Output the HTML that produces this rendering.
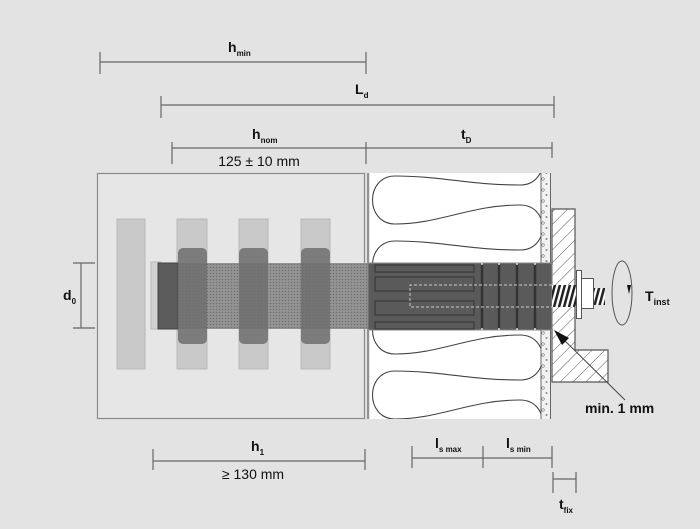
<!DOCTYPE html>
<html><head><meta charset="utf-8"><style>
html,body{margin:0;padding:0;background:#e3e3e3}
svg{display:block}
text{font-family:"Liberation Sans",sans-serif;fill:#111;font-weight:bold}
</style></head><body>
<svg width="700" height="529" viewBox="0 0 700 529" xmlns="http://www.w3.org/2000/svg">
<defs>
<pattern id="mesh" width="3" height="3" patternUnits="userSpaceOnUse"><rect width="3" height="3" fill="#8e8e8e"/><rect width="1" height="1" fill="#6e6e6e"/><rect x="1.5" y="1.5" width="1" height="1" fill="#a8a8a8"/></pattern>
<pattern id="hatch" width="9" height="9" patternUnits="userSpaceOnUse" patternTransform="rotate(45)"><rect width="9" height="9" fill="#fff"/><line x1="0" y1="0" x2="0" y2="9" stroke="#555" stroke-width="1"/></pattern>
<pattern id="speck" width="9" height="11" patternUnits="userSpaceOnUse"><rect width="9" height="11" fill="#f2f2f2"/><circle cx="3" cy="3" r="1.3" fill="none" stroke="#777" stroke-width="0.6"/><circle cx="6.5" cy="8" r="1" fill="#888"/></pattern>
<pattern id="thread" width="5" height="30" patternUnits="userSpaceOnUse" patternTransform="skewX(-15)"><rect width="5" height="30" fill="#fff"/><rect width="2.6" height="30" fill="#222"/></pattern>
<clipPath id="ins"><rect x="370" y="173" width="171" height="246"/></clipPath>
</defs>

<rect x="97.5" y="173.5" width="267" height="245" fill="#e6e6e6" stroke="#8a8a8a" stroke-width="1.2"/>
<line x1="368" y1="173" x2="368" y2="419" stroke="#777" stroke-width="1.5"/>
<rect x="117" y="219" width="28" height="150" fill="#c9c9c9" stroke="#b8b8b8"/>
<rect x="177" y="219" width="30" height="150" fill="#c9c9c9" stroke="#b8b8b8"/>
<rect x="239" y="219" width="29" height="150" fill="#c9c9c9" stroke="#b8b8b8"/>
<rect x="301" y="219" width="29" height="150" fill="#c9c9c9" stroke="#b8b8b8"/>
<rect x="151" y="262" width="10" height="67" fill="#d2d2d2" stroke="#b8b8b8"/>
<rect x="158" y="263" width="210" height="66" fill="url(#mesh)"/>
<rect x="158" y="263" width="20" height="66" fill="#5c5c5c" stroke="#444"/>
<rect x="178" y="248" width="29" height="96" rx="5" fill="#6e6e6e" opacity="0.85"/>
<rect x="239" y="248" width="29" height="96" rx="5" fill="#6e6e6e" opacity="0.85"/>
<rect x="301" y="248" width="29" height="96" rx="5" fill="#6e6e6e" opacity="0.85"/>

<rect x="370" y="173" width="171" height="246" fill="#fff"/>
<path clip-path="url(#ins)" fill="none" stroke="#444" stroke-width="1.1" d="M520,120 C470,120 440,111 395,111 C365,111 365,159 395,159 C440,159 470,140 520,140 C550,140 550,185 520,185 C470,185 440,176 395,176 C365,176 365,224 395,224 C440,224 470,205 520,205 C550,205 550,250 520,250 C470,250 440,241 395,241 C365,241 365,289 395,289 C440,289 470,270 520,270 C550,270 550,315 520,315 C470,315 440,306 395,306 C365,306 365,354 395,354 C440,354 470,335 520,335 C550,335 550,380 520,380 C470,380 440,371 395,371 C365,371 365,419 395,419 C440,419 470,400 520,400 C550,400 550,445 520,445"/>
<rect x="541" y="173" width="9" height="246" fill="url(#speck)"/>
<line x1="541" y1="173" x2="541" y2="419" stroke="#666"/>
<line x1="550.5" y1="173" x2="550.5" y2="419" stroke="#666"/>

<path d="M552,209 H575 V350 H608 V382 H552 Z" fill="url(#hatch)" stroke="#555" stroke-width="1.2"/>

<rect x="368" y="263" width="184" height="67" rx="2" fill="#5a5a5a" stroke="#888"/>
<g fill="none" stroke="#3a3a3a" stroke-width="1.2">
<rect x="375" y="265" width="99" height="7"/>
<rect x="375" y="277" width="99" height="14"/>
<rect x="375" y="301" width="99" height="14"/>
<rect x="375" y="322" width="99" height="7"/>
</g>
<g stroke="#333" stroke-width="2.5">
<line x1="482" y1="264" x2="482" y2="329"/><line x1="499" y1="264" x2="499" y2="329"/>
<line x1="517" y1="264" x2="517" y2="329"/><line x1="535" y1="264" x2="535" y2="329"/>
</g>
<g fill="#ddd"><circle cx="482" cy="264" r="1"/><circle cx="499" cy="264" r="1"/><circle cx="517" cy="264" r="1"/><circle cx="535" cy="264" r="1"/><circle cx="482" cy="329" r="1"/><circle cx="499" cy="329" r="1"/><circle cx="517" cy="329" r="1"/><circle cx="535" cy="329" r="1"/></g>
<path d="M552,285 H410 V307 H552" fill="none" stroke="#ccc" stroke-width="1" stroke-dasharray="3,2"/>

<rect x="552" y="285" width="25" height="22" fill="url(#thread)"/>
<rect x="593" y="288" width="12" height="17" fill="url(#thread)"/>
<rect x="576.5" y="270.5" width="5" height="48" fill="#fff" stroke="#555"/>
<rect x="581.5" y="278.5" width="12" height="30" fill="#fff" stroke="#555"/>
<ellipse cx="622" cy="293" rx="10" ry="32" fill="none" stroke="#555"/>
<path d="M627,285 L631,285 L629,294 Z" fill="#111"/>
<text x="645" y="301" font-size="14">T<tspan font-size="9" dy="4">inst</tspan></text>

<line x1="557" y1="333" x2="625" y2="400" stroke="#444"/>
<path d="M554,330 L569,338 L562,345 Z" fill="#111"/>
<text x="585" y="413" font-size="14">min. 1 mm</text>

<g stroke="#666" stroke-width="1.2" fill="none">
<path d="M100,62 H366 M100,52 V74 M366,52 V74"/>
<path d="M161,105 H554 M161,96 V118 M554,96 V118"/>
<path d="M172,148 H552 M172,142 V164 M366,142 V164 M552,142 V158"/>
<path d="M81,263 V328 M73,263 H95 M73,328 H95"/>
<path d="M153,461 H365 M153,449 V470 M365,449 V470"/>
<path d="M412,458 H552 M412,446 V468 M483,446 V468 M552,446 V468"/>
<path d="M553,479 H576 M553,472 V493 M576,472 V493"/>
</g>
<text x="228" y="52" font-size="14">h<tspan font-size="8" dy="4">min</tspan></text>
<text x="355" y="94" font-size="14">L<tspan font-size="8" dy="4">d</tspan></text>
<text x="252" y="139" font-size="14">h<tspan font-size="8" dy="4">nom</tspan></text>
<text x="461" y="139" font-size="14">t<tspan font-size="8" dy="4">D</tspan></text>
<text x="259" y="166" font-size="14" text-anchor="middle" style="font-weight:normal">125 ± 10 mm</text>
<text x="63" y="300" font-size="14">d<tspan font-size="8" dy="4">0</tspan></text>
<text x="251" y="451" font-size="14">h<tspan font-size="8" dy="4">1</tspan></text>
<text x="253" y="479" font-size="14" text-anchor="middle" style="font-weight:normal">≥ 130 mm</text>
<text x="435" y="448" font-size="14">l<tspan font-size="8" dy="4">s max</tspan></text>
<text x="506" y="448" font-size="14">l<tspan font-size="8" dy="4">s min</tspan></text>
<text x="559" y="509" font-size="14">t<tspan font-size="8" dy="4">fix</tspan></text>
</svg>
</body></html>
